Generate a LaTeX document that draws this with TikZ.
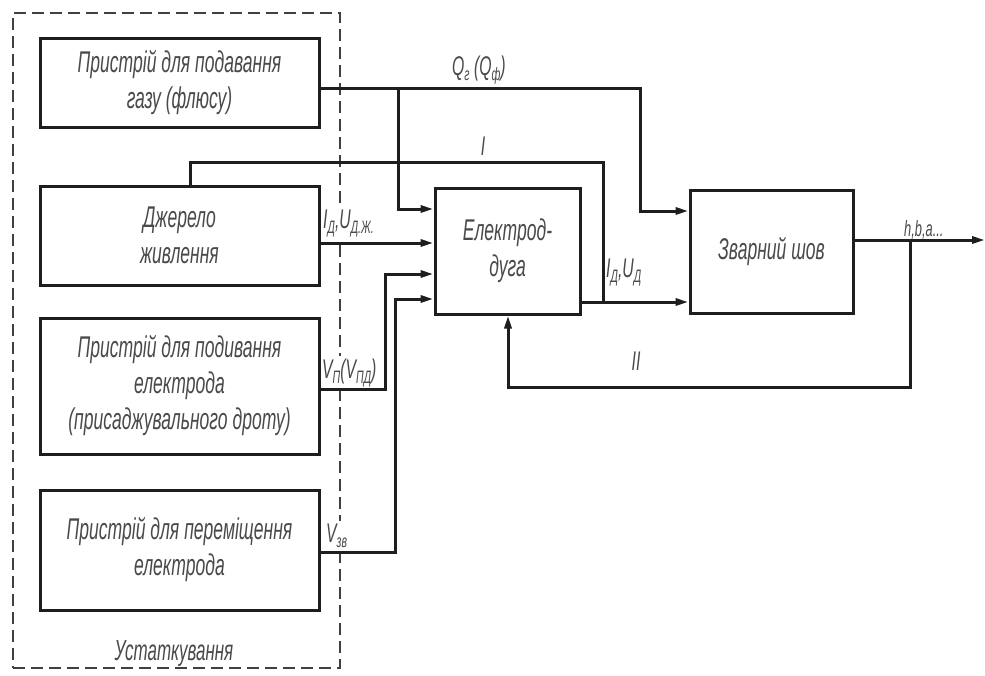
\documentclass[tikz,border=0pt]{standalone}
\usepackage{fontspec}
\newfontfamily\gostfam{Liberation Sans}[FakeStretch=0.585]
\usetikzlibrary{arrows.meta,calc}
\definecolor{ink}{HTML}{1E1E1E}
\definecolor{txt}{HTML}{4A4A4A}
% lowered index in signal names
\newcommand\idx[1]{\raisebox{-5pt}{\fontsize{18}{18}\selectfont #1}}
\begin{document}
\begin{tikzpicture}[x=1pt,y=-1pt,
  blk/.style={draw=ink, line width=3pt, inner sep=0pt, align=center, text=txt,
    font=\gostfam\itshape\fontsize{30}{36}\selectfont},
  wire/.style={draw=ink, line width=3pt},
  flow/.style={wire, -{Triangle[length=13pt,width=7pt]}},
  sig/.style={text=txt, inner sep=0pt, font=\gostfam\itshape\fontsize{27}{29}\selectfont},
  cut/.style={fill=white, inner sep=2pt},
  frame/.style={draw=ink!85, line width=2.8pt, dash pattern=on 12pt off 6pt, inner sep=0pt}]
\useasboundingbox (0,0) rectangle (985,675);
\fill[white] (0,0) rectangle (985,675);

% equipment frame
\node[frame, minimum width=327pt, minimum height=655pt] (plant) at (176.5,340.5) {};
\node[sig, font=\gostfam\itshape\fontsize{29}{31}\selectfont] (plantlbl) at (174,654) {Устаткування};

% signal labels (drawn before the wires so they only interrupt the frame)
\node[sig, anchor=base west] (lq)  at (452,75)  {Q\idx{г} (Q\idx{ф})};
\node[sig, anchor=base] (li)  at (483,155) {I};
\node[sig, cut, anchor=base west] (lsrc) at (321,228) {I\idx{Д},U\idx{Д.Ж.}};
\node[sig, anchor=base west] (larc) at (606,277) {I\idx{Д},U\idx{Д}};
\node[sig, cut, anchor=base west] (lv)  at (320,378) {V\idx{П}(V\idx{ПД})};
\node[sig, cut, anchor=base west] (lzv) at (324,542) {V\idx{зв}};
\node[sig, anchor=base west, font=\gostfam\itshape\fontsize{22}{24}\selectfont] (lh) at (904,236) {h,b,a...};
\node[sig, anchor=base] (lii) at (636,370) {II};

% blocks
\node[blk, minimum width=279pt, minimum height=89pt]  (gas)  at (179.5,82.5) {Пристрій для подавання\\газу (флюсу)};
\node[blk, minimum width=279pt, minimum height=99pt]  (src)  at (179.5,235.5) {Джерело\\живлення};
\node[blk, minimum width=279pt, minimum height=136pt] (feed) at (179.5,386) {Пристрій для подивання\\електрода\\(присаджувального дроту)};
\node[blk, minimum width=279pt, minimum height=120pt] (move) at (179.5,550) {Пристрій для переміщення\\електрода};
\node[blk, minimum width=145pt, minimum height=126pt] (arc)  at (507.5,251) {Електрод-\\дуга};
\node[blk, minimum width=163pt, minimum height=123pt] (weld) at (771.5,251.5) {Зварний шов};

% routing points
\coordinate (jq) at (398,88);
\coordinate (bq) at (640,88);
\coordinate (ji) at (190,162);
\coordinate (jd) at (603,302);
\coordinate (jh) at (910,240);
\coordinate (fb) at (508,387);
\coordinate (out) at (985,240);

% gas / flux supply
\draw[flow] (gas.east |- jq) -- (bq) |- (weld.west |- 0,211);
\draw[flow] (jq) |- (arc.west |- 0,209);
% welding current
\draw[wire] (src.north -| ji) -- (ji) -| (jd);
\draw[flow] (src.east |- 0,243) -- (arc.west |- 0,243);
\draw[flow] (arc.east |- jd) -- (weld.west |- jd);
% feed and travel speeds
\draw[flow] (feed.east |- 0,389) -| (385,274) -- (arc.west |- 0,274);
\draw[flow] (move.east |- 0,552) -| (395,299) -- (arc.west |- 0,299);
% output and feedback
\draw[flow] (weld.east |- jh) -- (out);
\draw[flow] (jh) |- (fb) -- (arc.south -| fb);
\end{tikzpicture}
\end{document}
